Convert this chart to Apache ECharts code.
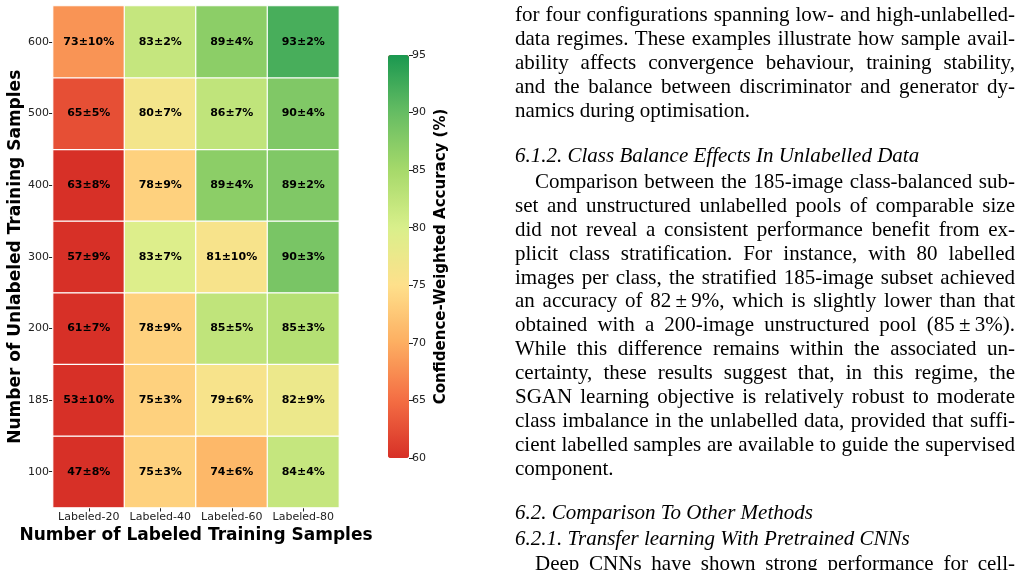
<!DOCTYPE html>
<html>
<head>
<meta charset="utf-8">
<script src="https://cdn.jsdelivr.net/npm/echarts@6/dist/echarts.min.js"></script>
<style>
  html, body { margin: 0; padding: 0; background: #fff; }
  #chart { position: absolute; left: 0; top: 0; width: 1022px; height: 570px; }
  #text { position: absolute; left: 515px; top: 0; width: 500px; font-family: 'Liberation Serif', serif; font-size: 21px; color: #000; }
  #text div { position: absolute; left: 0; width: 500px; height: 24px; line-height: 24px; white-space: nowrap; }
  #text .j { text-align: justify; text-align-last: justify; white-space: normal; }
  #text .h { font-style: italic; }
  #text .ind { text-indent: 20px; }
</style>
</head>
<body>
<div id="chart"></div>
<div id="text"></div>
<script>
// heatmap axes
const labeledCats = ['Labeled-20', 'Labeled-40', 'Labeled-60', 'Labeled-80'];
const unlabeledCats = ['100', '185', '200', '300', '400', '500', '600'];

// rows follow unlabeledCats (bottom -> top), columns follow labeledCats
const meanAcc = [
    [47, 75, 74, 84],
    [53, 75, 79, 82],
    [61, 78, 85, 85],
    [57, 83, 81, 90],
    [63, 78, 89, 89],
    [65, 80, 86, 90],
    [73, 83, 89, 93]
];
const stdAcc = [
    [8, 3, 6, 4],
    [10, 3, 6, 9],
    [7, 9, 5, 3],
    [9, 7, 10, 3],
    [8, 9, 4, 2],
    [5, 7, 7, 4],
    [10, 2, 4, 2]
];
// confidence-weighted accuracy (cell colour)
const weightedAcc = [
    [43, 73.5, 71, 82],
    [48, 73.5, 76, 77.5],
    [57.5, 73.5, 82.5, 83.5],
    [52.5, 79.5, 76, 88.5],
    [59, 73.5, 87, 88],
    [62.5, 76.5, 82.5, 88],
    [68, 82, 87, 92]
];

// colour bar
const cbMin = 60;
const cbMax = 95;
const cbStep = 5;
const cbColors = ['#d73027', '#f46d43', '#fdae61', '#fee08b', '#d9ef8b', '#a6d96a', '#66bd63', '#1a9850'];

// paragraph text on the right: [text, centre y, kind]
const textLines = [
    ['for four configurations spanning low- and high-unlabelled-', 14, 'j'],
    ['data regimes. These examples illustrate how sample avail-', 38, 'j'],
    ['ability affects convergence behaviour, training stability,', 62, 'j'],
    ['and the balance between discriminator and generator dy-', 86, 'j'],
    ['namics during optimisation.', 110, ''],
    ['6.1.2. Class Balance Effects In Unlabelled Data', 155, 'h'],
    ['Comparison between the 185-image class-balanced sub-', 181, 'j ind'],
    ['set and unstructured unlabelled pools of comparable size', 205, 'j'],
    ['did not reveal a consistent performance benefit from ex-', 229, 'j'],
    ['plicit class stratification. For instance, with 80 labelled', 253, 'j'],
    ['images per class, the stratified 185-image subset achieved', 277, 'j'],
    ['an accuracy of 82\u2009\u00b1\u20099%, which is slightly lower than that', 300, 'j'],
    ['obtained with a 200-image unstructured pool (85\u2009\u00b1\u20093%).', 324, 'j'],
    ['While this difference remains within the associated un-', 348, 'j'],
    ['certainty, these results suggest that, in this regime, the', 372, 'j'],
    ['SGAN learning objective is relatively robust to moderate', 396, 'j'],
    ['class imbalance in the unlabelled data, provided that suffi-', 420, 'j'],
    ['cient labelled samples are available to guide the supervised', 444, 'j'],
    ['component.', 468, ''],
    ['6.2. Comparison To Other Methods', 512, 'h'],
    ['6.2.1. Transfer learning With Pretrained CNNs', 538, 'h'],
    ['Deep CNNs have shown strong performance for cell-', 563, 'j ind']
];

const textBox = document.getElementById('text');
textLines.forEach(([t, y, cls]) => {
    const d = document.createElement('div');
    d.className = cls;
    d.style.top = (y - 12) + 'px';
    d.textContent = t;
    textBox.appendChild(d);
});

const cells = [];
for (let r = 0; r < unlabeledCats.length; r++) {
    for (let c = 0; c < labeledCats.length; c++) {
        cells.push([c, r, weightedAcc[r][c], meanAcc[r][c], stdAcc[r][c]]);
    }
}

const font = 'DejaVu Sans';
const chart = echarts.init(document.getElementById('chart'), null, { renderer: 'canvas' });
chart.setOption({
    animation: false,
    textStyle: { fontFamily: font },
    grid: [
        { left: 53, top: 6, width: 286, height: 501.5 },
        { left: 388, top: 55, width: 21, height: 403 }
    ],
    xAxis: [
        {
            type: 'category',
            gridIndex: 0,
            data: labeledCats,
            axisLine: { show: false },
            axisTick: { show: true, alignWithLabel: true, length: 4, lineStyle: { color: '#222' } },
            axisLabel: { interval: 0, fontSize: 11, color: '#222', margin: 4, fontFamily: font },
            splitLine: { show: false },
            name: 'Number of Labeled Training Samples',
            nameLocation: 'middle',
            nameGap: 18,
            nameTextStyle: { fontSize: 17, fontWeight: 'bold', color: '#000', fontFamily: font }
        },
        {
            type: 'value',
            gridIndex: 1,
            show: false,
            min: 0,
            max: 1,
            axisLine: { show: false },
            axisTick: { show: false },
            axisLabel: { show: false },
            splitLine: { show: false }
        }
    ],
    yAxis: [
        {
            type: 'category',
            gridIndex: 0,
            data: unlabeledCats,
            axisLine: { show: false },
            axisTick: { show: true, alignWithLabel: true, length: 4, lineStyle: { color: '#222' } },
            axisLabel: { interval: 0, fontSize: 11, color: '#222', margin: 4, fontFamily: font },
            splitLine: { show: false },
            name: 'Number of Unlabeled Training Samples',
            nameLocation: 'middle',
            nameGap: 29,
            nameTextStyle: { fontSize: 17, fontWeight: 'bold', color: '#000', fontFamily: font }
        },
        {
            type: 'value',
            gridIndex: 1,
            position: 'right',
            min: cbMin,
            max: cbMax,
            interval: cbStep,
            axisLine: { show: false, onZero: false },
            axisTick: { show: true, inside: false, length: 4, lineStyle: { color: '#222' } },
            axisLabel: { fontSize: 11, color: '#222', margin: 3, fontFamily: font },
            splitLine: { show: false },
            name: 'Confidence-Weighted Accuracy (%)',
            nameLocation: 'middle',
            nameRotate: 90,
            nameGap: 25,
            nameTextStyle: { fontSize: 15, fontWeight: 'bold', color: '#000', fontFamily: font }
        }
    ],
    visualMap: {
        type: 'continuous',
        min: cbMin,
        max: cbMax,
        dimension: 2,
        seriesIndex: 0,
        calculable: false,
        hoverLink: false,
        orient: 'vertical',
        left: 388,
        top: 55,
        padding: 0,
        itemWidth: 21,
        itemHeight: 403,
        text: null,
        inRange: { color: cbColors },
        outOfRange: { color: cbColors[0] }
    },
    series: [
        {
            type: 'heatmap',
            xAxisIndex: 0,
            yAxisIndex: 0,
            data: cells,
            itemStyle: { borderColor: '#fff', borderWidth: 1.2 },
            label: {
                show: true,
                fontSize: 11,
                fontWeight: 'bold',
                color: '#000',
                fontFamily: font,
                formatter: p => p.data[3] + '\u00b1' + p.data[4] + '%'
            },
            emphasis: { disabled: true }
        }
    ]
});
</script>
</body>
</html>
